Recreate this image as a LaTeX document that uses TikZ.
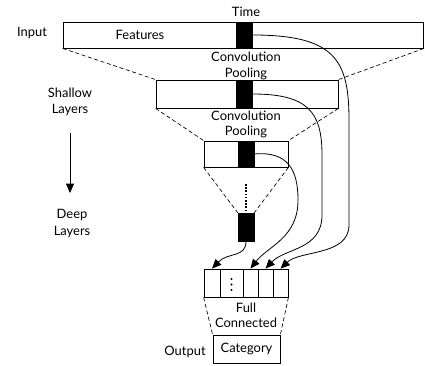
\documentclass[tikz,border=0pt]{standalone}
\usepackage{fontspec}
\setmainfont{Lato}
\usetikzlibrary{arrows.meta}
\begin{document}
\begin{tikzpicture}[x=0.75pt,y=-0.75pt,
  font=\fontsize{9.7}{11}\selectfont,
  box/.style={draw,line width=0.6pt,inner sep=0pt,minimum height=#1},
  box/.default=19.5pt,
  bar/.style={fill=black,draw=black,inner sep=0pt,minimum width=12pt,minimum height=#1},
  bar/.default=19.5pt,
  lbl/.style={inner sep=0pt,align=center},
  dsh/.style={dash pattern=on 3pt off 2pt,line width=0.5pt},
  arr/.style={line width=0.6pt,-{Triangle[length=7pt,width=6pt]}},
  conn/.style={line width=0.6pt}]
\useasboundingbox (0,0) rectangle (425,366);
% input layer
\node[box,minimum width=270.4pt] (r1) at (243.3,35) {};
\node[bar] (b1) at (244,35) {};
\node[lbl] (time) at (246,12) {Time};
\node[lbl] (input) at (32,33) {Input};
\node[lbl] (feat) at (140,35) {Features};
% conv 1
\node[lbl] (conv1) at (246,57) {Convolution};
\node[lbl] (pool1) at (246,74) {Pooling};
\node[box=21pt,minimum width=136.5pt] (r2) at (247,94) {};
\node[bar=21pt] (b2) at (244,94) {};
% conv 2
\node[lbl] (conv2) at (246,116) {Convolution};
\node[lbl] (pool2) at (246,132) {Pooling};
\node[box,minimum width=63pt] (r3) at (246,154) {};
\node[bar] (b3) at (246,154) {};
% deep block
\node[bar=21pt] (b4) at (246,227) {};
\coordinate (d1) at (246,184);
\coordinate (d2) at (246,210);
% FC cells
\node[box=21pt,minimum width=12pt] (c1) at (212,283) {};
\node[box=21pt,minimum width=17.25pt] (c2) at (231.5,283) {};
\node[box=21pt,minimum width=11.25pt] (c3) at (250.5,283) {};
\node[box=21pt,minimum width=11.25pt] (c4) at (265.5,283) {};
\node[box=21pt,minimum width=11.25pt] (c5) at (280.5,283) {};
\foreach \yy in {279,284.5,290} \fill (231.5,\yy) circle (0.85pt);
\node[lbl] (full) at (246,308) {Full};
\node[lbl] (fcon) at (246,323) {Connected};
\node[box=21pt,minimum width=50.25pt] (cat) at (246.5,349) {Category};
\node[lbl] (out) at (185,352) {Output};
% left labels
\node[lbl] (sh1) at (70,93) {Shallow};
\node[lbl] (sh2) at (70,110) {Layers};
\node[lbl] (dp1) at (72,215) {Deep};
\node[lbl] (dp2) at (72,232) {Layers};
\coordinate (la1) at (70,133);
\coordinate (la2) at (70,193);
\draw[arr] (la1) -- (la2);
% dashed trapezoids
\draw[dsh] (r1.south west) -- (r2.north west);
\draw[dsh] (r1.south east) -- (r2.north east);
\draw[dsh] (r2.south west) -- (r3.north west);
\draw[dsh] (r2.south east) -- (r3.north east);
\draw[dsh] (r3.south west) -- (b4.north west);
\draw[dsh] (r3.south east) -- (b4.north east);
\draw[dsh] (c1.south west) -- (cat.north west);
\draw[dsh] (c5.south east) -- (cat.north east);
\draw[line width=1.5pt,dash pattern=on 1.2pt off 1.2pt] (d1) -- (d2);
% connectors
\draw[arr] (b4.south) .. controls (246,258) and (228,252) .. (c1.north);
\draw[arr] (b3.east) .. controls (288,151) and (298,170) .. (298,200)
   .. controls (298,238) and (268,246) .. (c3.north);
\draw[arr] (b2.east) .. controls (308,94) and (322,112) .. (322,155)
   -- (322,215) .. controls (322,250) and (285,248) .. (c4.north);
\draw[arr] (b1.east) .. controls (335,35) and (349,60) .. (349,120)
   -- (349,225) .. controls (349,256) and (300,250) .. (c5.north);
\end{tikzpicture}
\end{document}
